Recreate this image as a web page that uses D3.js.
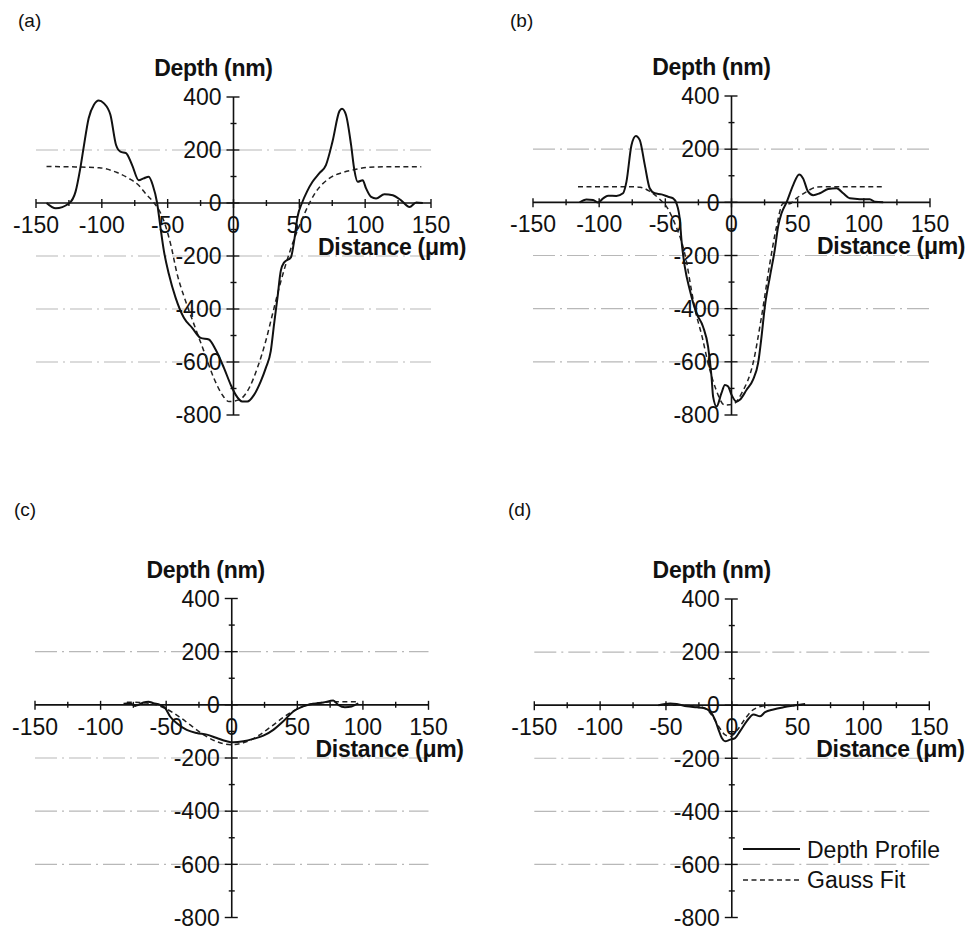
<!DOCTYPE html>
<html><head><meta charset="utf-8">
<script src="https://cdn.jsdelivr.net/npm/d3@7"></script>
<style>
html,body{margin:0;padding:0;background:#fff;}
svg text{font-family:"Liberation Sans",Arial,sans-serif;fill:#111;}
</style></head>
<body>
<svg id="chart" width="970" height="928"></svg>
<script>
// ---------- data ----------
const panelLabels = ["(a)","(b)","(c)","(d)"];
const xTickValues = [-150,-100,-50,0,50,100,150];
const yTickValues = [400,200,0,-200,-400,-600,-800];
const gridValues = [200,-200,-400,-600];
const xTitle = "Distance (\u03bcm)";
const yTitle = "Depth (nm)";
const legendLabels = ["Depth Profile","Gauss Fit"];

const profileA = [[-142,0],[-135,-20],[-125,-2],[-120,42],[-116.4,130],[-113.9,207],[-110,320],[-106,371],[-102.4,387],[-98.6,377],[-93.5,333],[-89.2,219],[-85.9,194],[-81.6,188],[-77,143],[-72,86],[-68.2,93],[-64.4,99],[-61.3,67],[-58,0],[-55.5,-91],[-52.9,-180],[-49.1,-268],[-44,-357],[-37.7,-433],[-31.4,-471],[-25,-509],[-18.7,-515],[-13.6,-553],[-7.2,-623],[-2.1,-686],[1.7,-724],[6.7,-749],[10.5,-749],[15.6,-724],[20.7,-673],[24.5,-623],[28.3,-559],[30.8,-458],[33.4,-357],[35.9,-256],[38.5,-224],[43.6,-205],[46.1,-142],[48.6,-53],[52,0],[56,45],[60,80],[65.1,112],[70.2,143],[75.2,232],[80.4,346],[82.4,356],[85.4,333],[89.3,219],[91.8,124],[94.3,80],[98.1,86],[100.7,55],[104.5,23],[108.3,17],[114.6,33],[121,29],[127.3,10],[133.7,-15],[138.8,2],[143.8,0]];
const fitA = [[-142,138],[-120,136],[-102,133],[-88.5,115],[-79.6,93],[-72,67],[-65.6,29],[-61,5],[-53,-66],[-47.8,-154],[-42.8,-268],[-36.4,-370],[-30,-458],[-22.5,-559],[-14.9,-661],[-8.5,-724],[-3.4,-749],[4.2,-743],[11.8,-699],[18.1,-623],[24.5,-521],[29.6,-420],[34.7,-319],[39.8,-230],[44.8,-154],[51.2,-72],[58.8,10],[62.6,42],[72.7,93],[82.9,115],[93,127],[103,135],[120,137],[142.6,137]];

const profileB = [[-114.7,0],[-109.6,11],[-104.6,9],[-100.8,-1],[-97,15],[-93.3,25],[-87,24],[-82,34],[-79.4,77],[-75.6,215],[-72.3,250],[-69.3,234],[-65.5,140],[-61.8,53],[-58,34],[-52.9,30],[-47.9,21],[-44.1,15],[-41.6,-4],[-39,-67],[-37.8,-142],[-35.3,-242],[-31.5,-330],[-26.5,-417],[-21.5,-468],[-17.7,-543],[-15.1,-656],[-13.9,-731],[-11.3,-768],[-7.6,-718],[-5,-687],[-2.5,-693],[0,-724],[3.8,-750],[6.3,-743],[11.3,-706],[16.3,-667],[20.1,-605],[22.7,-505],[25.2,-392],[29,-280],[32.7,-179],[35.2,-92],[37.8,-41],[41.6,0],[46.6,65],[51.1,105],[54.1,90],[57.9,40],[61.7,27],[66.7,34],[73,50],[79.4,53],[84.4,34],[89.4,15],[97,12],[104.5,12],[108.3,2],[114.6,0]];
const fitB = [[-116,59],[-90,59],[-75,59],[-69,57],[-62,42],[-55,15],[-48,-25],[-42,-90],[-37,-160],[-34,-223],[-31,-310],[-27.7,-398],[-22,-510],[-17.7,-605],[-12,-700],[-5,-763],[1,-760],[8,-715],[16.3,-605],[22.7,-430],[29,-229],[34,-92],[39,-4],[44,-5],[49,15],[56.7,40],[64,57],[75,59],[100,59],[116,59]];

const profileC = [[-82.5,4],[-77.5,6],[-73.7,-4],[-71.1,0],[-67.3,9],[-63.5,12],[-59.7,6],[-54.6,0],[-50.8,-12],[-47,-44],[-41.9,-69],[-34.3,-94],[-26.7,-106],[-19,-112],[-11.4,-125],[-3.8,-137],[1.2,-141],[8.9,-137],[16.5,-128],[24.1,-116],[31.7,-94],[39.3,-62],[46.9,-25],[54.5,-6],[62.2,4],[69.8,9],[77.4,16],[81.2,0],[86.3,-9],[91.4,-6],[96.4,6]];
const fitC = [[-80,10],[-70,9],[-60,3],[-50,-15],[-40,-45],[-30,-82],[-20,-117],[-10,-141],[0,-150],[10,-141],[20,-117],[30,-82],[40,-45],[50,-15],[60,3],[70,9],[80,12],[97,12]];

const profileD = [[-55.7,0],[-46.8,6],[-41.8,4],[-34.2,-4],[-26.6,-8],[-21.5,-11],[-16.4,-24],[-12.7,-55],[-10.1,-92],[-7.6,-124],[-5.1,-136],[-1.3,-130],[2.5,-124],[6.3,-98],[11.4,-60],[16.5,-35],[21.5,-42],[25.3,-26],[31.6,-16],[39.2,-8],[46.8,-2],[55.7,4]];
const fitD = [[-55,0],[-30,-1],[-20,-12],[-15,-40],[-10,-80],[-5,-112],[-1,-118],[4,-95],[10,-52],[15,-22],[20,-8],[25,-2],[35,0],[55,0]];

const profiles = [profileA, profileB, profileC, profileD];
const fits = [fitA, fitB, fitC, fitD];

// ---------- layout ----------
const boxes = [
  {x0:36,  x1:431,   yTop:97,  yBot:415,   lab:[18,27]},
  {x0:533, x1:930,   yTop:96,  yBot:415,   lab:[510,27]},
  {x0:35,  x1:428.5, yTop:598.5, yBot:917.5, lab:[14,516]},
  {x0:534.3,x1:929.3,yTop:599, yBot:917.5, lab:[508,516]}
];

const svg = d3.select("#chart");
const FS = 23;

boxes.forEach((b,i)=>{
  const x = d3.scaleLinear().domain([-150,150]).range([b.x0,b.x1]);
  const y = d3.scaleLinear().domain([-800,400]).range([b.yBot,b.yTop]);
  const g = svg.append("g");
  const x0 = x(0), y0 = y(0);

  // panel label
  svg.append("text").attr("x",b.lab[0]).attr("y",b.lab[1]).attr("font-size",19).text(panelLabels[i]);

  // grid lines
  g.selectAll("line.grid").data(gridValues).join("line")
    .attr("x1",x(-150)).attr("x2",x(150))
    .attr("y1",d=>y(d)).attr("y2",d=>y(d))
    .attr("stroke","#b8b8b8").attr("stroke-width",1.1)
    .attr("stroke-dasharray","22,5,2,5");

  // axes lines
  g.append("line").attr("x1",x(-150)).attr("x2",x(150)).attr("y1",y0).attr("y2",y0)
    .attr("stroke","#111").attr("stroke-width",1.6);
  g.append("line").attr("x1",x0).attr("x2",x0).attr("y1",y(400)).attr("y2",y(-800))
    .attr("stroke","#111").attr("stroke-width",1.6);

  // x ticks (every 25)
  const xt = d3.range(-150,151,25);
  g.selectAll("line.xt").data(xt).join("line")
    .attr("x1",d=>x(d)).attr("x2",d=>x(d))
    .attr("y1",d=>y0-(d%50===0?4:3)).attr("y2",d=>y0+(d%50===0?5:3))
    .attr("stroke","#111").attr("stroke-width",1.4);
  // y ticks (every 100)
  const yt = d3.range(-800,401,100);
  g.selectAll("line.yt").data(yt).join("line")
    .attr("y1",d=>y(d)).attr("y2",d=>y(d))
    .attr("x1",d=>x0-(d%200===0?7:3)).attr("x2",d=>x0+(d%200===0?6:3))
    .attr("stroke","#111").attr("stroke-width",1.4);

  // x tick labels
  g.selectAll("text.xl").data(xTickValues).join("text")
    .attr("x",d=>x(d)).attr("y",y0+30).attr("text-anchor","middle")
    .attr("font-size",FS).text(d=>String(d));
  // y tick labels
  g.selectAll("text.yl").data(yTickValues).join("text")
    .attr("x",x0-12).attr("y",d=>y(d)).attr("dy","0.36em").attr("text-anchor","end")
    .attr("font-size",FS).text(d=>String(d));

  // titles
  g.append("text").attr("x",x0-(i===2?26:20)).attr("y",b.yTop-21).attr("text-anchor","middle")
    .attr("font-size",FS).attr("font-weight","bold").attr("letter-spacing","-0.3").text(yTitle);
  g.append("text").attr("x",x(150)-113).attr("y",y0+52)
    .attr("font-size",FS).attr("font-weight","bold").attr("letter-spacing","-0.3").text(xTitle);

  // curves
  const line = d3.line().x(d=>x(d[0])).y(d=>y(d[1])).curve(d3.curveMonotoneX);
  g.append("path").datum(fits[i]).attr("d",line).attr("fill","none")
    .attr("stroke","#222").attr("stroke-width",1.5).attr("stroke-dasharray","5,3.5");
  g.append("path").datum(profiles[i]).attr("d",line).attr("fill","none")
    .attr("stroke","#111").attr("stroke-width",2).attr("stroke-linejoin","round");

  // legend in panel d
  if(i===3){
    const lg = svg.append("g");
    lg.append("line").attr("x1",743).attr("x2",800).attr("y1",849).attr("y2",849)
      .attr("stroke","#111").attr("stroke-width",2);
    lg.append("text").attr("x",807).attr("y",858).attr("font-size",FS).text(legendLabels[0]);
    lg.append("line").attr("x1",743).attr("x2",800).attr("y1",880).attr("y2",880)
      .attr("stroke","#222").attr("stroke-width",1.5).attr("stroke-dasharray","5,3.5");
    lg.append("text").attr("x",807).attr("y",888).attr("font-size",FS).text(legendLabels[1]);
  }
});
</script>
</body></html>
